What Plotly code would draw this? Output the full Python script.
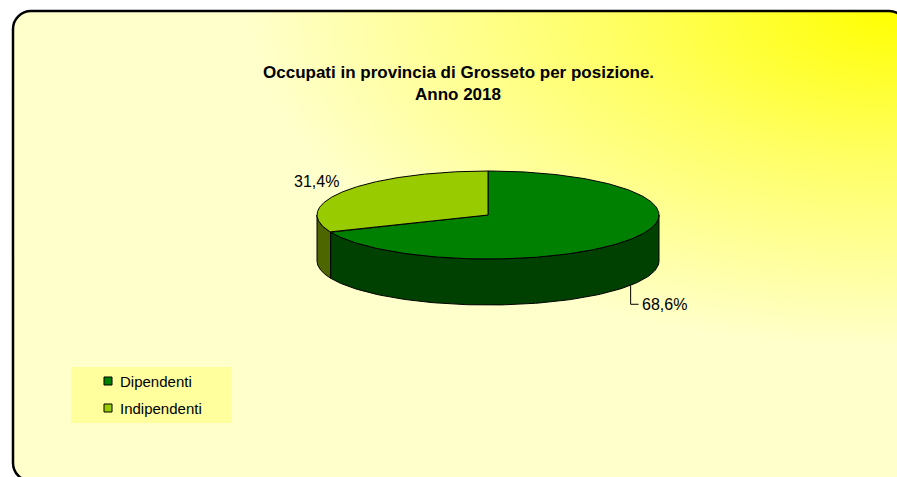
import base64
import numpy as np
import plotly.graph_objects as go

# ---------------- data ----------------
categories = ["Dipendenti", "Indipendenti"]
values = [68.6, 31.4]
top_colors = ["#008000", "#99CC00"]
side_colors = ["#004000", "#4D6600"]
title_lines = ["Occupati in provincia di Grosseto per posizione.", "Anno 2018"]

# ---------------- geometry (pixel space) ----------------
W, H = 897, 477
CX, CY, RX, RY, DEPTH = 488, 215, 171, 44, 46
FONT = "Liberation Sans, Arial, sans-serif"


def pt(theta_deg, dy=0.0):
    t = np.radians(theta_deg)
    return CX + RX * np.sin(t), CY - RY * np.cos(t) + dy


total = sum(values)
bounds = np.concatenate([[0], np.cumsum(values) / total * 360.0])

fig = go.Figure()

# side faces (front half: 90..270 deg clockwise from 12 o'clock)
for i, cat in enumerate(categories):
    a, b = max(bounds[i], 90.0), min(bounds[i + 1], 270.0)
    if a >= b:
        continue
    th = np.linspace(a, b, 120)
    xt, yt = pt(th)
    xb, yb = pt(th[::-1], DEPTH)
    fig.add_trace(go.Scatter(
        x=np.concatenate([xt, xb, xt[:1]]), y=np.concatenate([yt, yb, yt[:1]]),
        mode="lines", fill="toself", fillcolor=side_colors[i],
        line=dict(color="black", width=1), hoverinfo="skip", showlegend=False))

# top faces
for i, cat in enumerate(categories):
    th = np.linspace(bounds[i], bounds[i + 1], 240)
    xt, yt = pt(th)
    fig.add_trace(go.Scatter(
        x=np.concatenate([[CX], xt, [CX]]), y=np.concatenate([[CY], yt, [CY]]),
        mode="lines", fill="toself", fillcolor=top_colors[i],
        line=dict(color="black", width=1), name=cat,
        hovertemplate=f"{cat}: {values[i]}%<extra></extra>", showlegend=False))


def fmt(v):
    return f"{v:.1f}".replace(".", ",") + "%"


# labels
mids = (bounds[:-1] + bounds[1:]) / 2
# Dipendenti: label with leader line (bottom right)
lx, ly = pt(mids[0], DEPTH)
fig.add_trace(go.Scatter(x=[lx, lx, lx + 8], y=[ly, ly + 19, ly + 19], mode="lines",
                         line=dict(color="black", width=1), hoverinfo="skip", showlegend=False))
fig.add_annotation(x=lx + 9, y=ly + 19, text=fmt(values[0]), showarrow=False,
                   xanchor="left", yanchor="middle",
                   font=dict(family=FONT, size=16, color="black"))
# Indipendenti: label top-left
ix, iy = pt(mids[1])
fig.add_annotation(x=ix - 4, y=iy - 9, text=fmt(values[1]), showarrow=False,
                   xanchor="right", yanchor="middle",
                   font=dict(family=FONT, size=16, color="black"))

# title
fig.add_annotation(x=458, y=72, text=f"<b>{title_lines[0]}</b>", showarrow=False,
                   xanchor="center", yanchor="middle", font=dict(family=FONT, size=17, color="black"))
fig.add_annotation(x=458, y=94, text=f"<b>{title_lines[1]}</b>", showarrow=False,
                   xanchor="center", yanchor="middle", font=dict(family=FONT, size=17, color="black"))

# legend (manual)
shapes = [dict(type="rect", x0=71, x1=231, y0=367, y1=423, fillcolor="#FFFF9E",
               line=dict(width=0), layer="below")]
for i, cat in enumerate(categories):
    yy = 381 + 27 * i
    shapes.append(dict(type="rect", x0=104, x1=112, y0=yy - 4, y1=yy + 4,
                       fillcolor=top_colors[i], line=dict(color="black", width=1)))
    fig.add_annotation(x=118, y=yy, text=cat, showarrow=False, xanchor="left", yanchor="middle",
                       font=dict(family=FONT, size=15, color="black"))

# background: rounded frame with corner gradient
svg = f'''<svg xmlns="http://www.w3.org/2000/svg" width="{W}" height="{H}" viewBox="0 0 {W} {H}">
<defs><radialGradient id="g" gradientUnits="userSpaceOnUse" cx="0" cy="0" r="1"
 gradientTransform="translate(897 10) scale(650 340)">
<stop offset="0" stop-color="#FFFF00"/><stop offset="0.45" stop-color="#FFFF66"/>
<stop offset="1" stop-color="#FFFFCC"/></radialGradient></defs>
<rect x="0" y="0" width="{W}" height="{H}" fill="white"/>
<rect x="13" y="11" width="894" height="470" rx="18" ry="18" fill="url(#g)" stroke="black" stroke-width="2.5"/>
</svg>'''
src = "data:image/svg+xml;base64," + base64.b64encode(svg.encode()).decode()

fig.update_layout(
    width=W, height=H, margin=dict(l=0, r=0, t=0, b=0),
    paper_bgcolor="white", plot_bgcolor="rgba(0,0,0,0)",
    xaxis=dict(range=[0, W], visible=False, fixedrange=True),
    yaxis=dict(range=[H, 0], visible=False, fixedrange=True),
    shapes=shapes, showlegend=False,
    images=[dict(source=src, xref="paper", yref="paper", x=0, y=1, sizex=1, sizey=1,
                 sizing="stretch", layer="below", xanchor="left", yanchor="top")],
)

fig.write_html("out.html", config={"displayModeBar": False},
               post_script="document.body.style.margin='0';document.body.style.overflow='hidden';")
